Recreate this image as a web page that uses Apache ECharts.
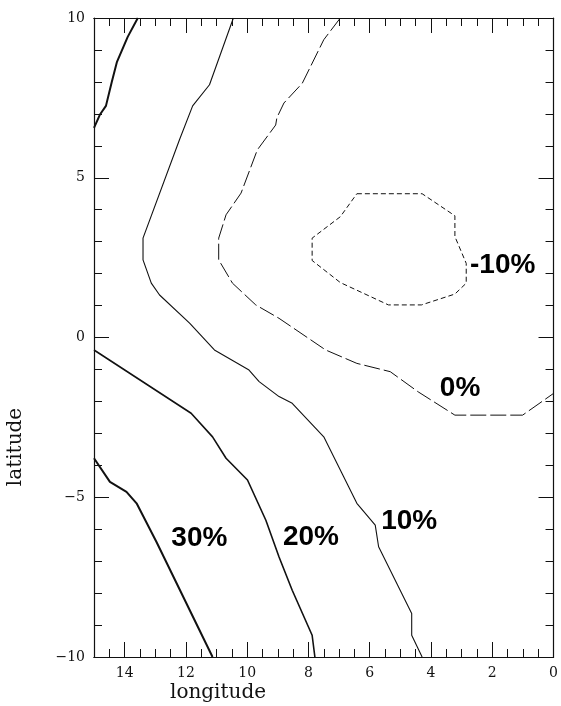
<!DOCTYPE html>
<html>
<head>
<meta charset="utf-8">
<script src="https://cdn.jsdelivr.net/npm/echarts@6/dist/echarts.min.js"></script>
<style>
html,body{margin:0;padding:0;background:#fff;}
#chart{width:561px;height:706px;}
</style>
</head>
<body>
<div id="chart"></div>
<script>
// Contour lines as [longitude, latitude] pairs
var contourTopLeft = [[13.57,10.0],[13.90,9.41],[14.25,8.63],[14.42,8.00],[14.61,7.25],[14.81,6.97],[15.0,6.56]];
var contour10 = [[10.45,10.0],[11.23,7.91],[11.78,7.25],[12.21,6.19],[13.40,3.11],[13.40,2.43],[13.13,1.70],[12.86,1.33],[11.88,0.45],[11.07,-0.39],[9.94,-1.02],[9.61,-1.38],[8.96,-1.85],[8.53,-2.06],[7.50,-3.11],[6.42,-5.19],[5.82,-5.87],[5.71,-6.55],[4.63,-8.64],[4.63,-9.32],[4.29,-10.0]];
var contour20 = [[15.0,-0.39],[11.83,-2.37],[11.13,-3.11],[10.69,-3.78],[9.99,-4.46],[9.39,-5.72],[8.96,-6.87],[8.53,-7.91],[7.88,-9.32],[7.79,-10.0]];
var contour30 = [[15.0,-3.78],[14.48,-4.52],[13.94,-4.83],[13.61,-5.19],[12.96,-6.40],[11.13,-10.0]];
var contour0 = [[6.96,10.0],[7.50,9.32],[8.20,7.96],[8.80,7.34],[9.03,6.88],[9.07,6.65],[9.67,5.87],[10.20,4.52],[10.69,3.84],[10.93,3.11],[10.93,2.43],[10.48,1.70],[9.72,1.02],[8.96,0.60],[7.44,-0.39],[6.42,-0.81],[5.33,-1.07],[4.42,-1.70],[3.22,-2.43],[1.01,-2.43],[0.0,-1.75]];
var contourMinus10 = [[6.42,4.50],[4.29,4.50],[3.22,3.81],[3.22,3.16],[2.85,2.32],[2.85,1.70],[3.22,1.36],[4.31,1.02],[5.39,1.02],[6.96,1.72],[7.88,2.41],[7.88,3.11],[6.96,3.78],[6.42,4.50]];
// Contour level labels [longitude, latitude, text]
var levelLabels = [[11.56,-6.28,'30%'],[7.92,-6.25,'20%'],[4.71,-5.75,'10%'],[3.05,-1.58,'0%'],[1.66,2.27,'-10%']];
var xTitle = 'longitude';
var yTitle = 'latitude';

var chart = echarts.init(document.getElementById('chart'), null, {renderer:'canvas'});
var ink = '#111';
var tickFont = {fontFamily:'DejaVu Serif', fontSize:14, color:ink};

function xAx(pos, interval, len, labels){
  return {type:'value', position:pos, min:0, max:15, interval:interval, inverse:true,
    axisLine:{show:true, onZero:false, lineStyle:{color:ink, width:1.2}},
    axisTick:{show:true, inside:true, length:len, lineStyle:{color:ink, width:1}},
    axisLabel:Object.assign({show:labels, margin:9, formatter:function(v){return v===15?'':String(v);}}, tickFont),
    splitLine:{show:false}};
}
function yAx(pos, labels){
  return {type:'value', position:pos, min:-10, max:10, interval:5,
    axisLine:{show:true, onZero:false, lineStyle:{color:ink, width:1.2}},
    axisTick:{show:true, inside:true, length:15, lineStyle:{color:ink, width:1}},
    minorTick:{show:true, splitNumber:5, length:8, lineStyle:{color:ink, width:1}},
    axisLabel:Object.assign({show:labels, margin:9, formatter:function(v){return v<0?'\u2212'+Math.abs(v):String(v);}}, tickFont),
    splitLine:{show:false}, minorSplitLine:{show:false}};
}
function line(data, width, type){
  return {type:'line', data:data, xAxisIndex:0, yAxisIndex:0, showSymbol:false, symbol:'none', smooth:false,
    lineStyle:{color:ink, width:width, type:type}};
}

var labelSeries = line(contour10, 1.1, 'solid');
labelSeries.markPoint = {
  symbol:'circle', symbolSize:0, animation:false,
  data: levelLabels.map(function(d){ return {name:d[2], coord:[d[0], d[1]]}; }),
  label:{show:true, position:'inside', formatter:'{b}', fontFamily:'Liberation Sans', fontWeight:'bold', fontSize:28, color:'#000'}
};

chart.setOption({
  animation:false,
  grid:{left:94, right:5, top:18, bottom:49},
  xAxis:[xAx('bottom',2,15,true), xAx('bottom',0.5,8,false), xAx('top',2,15,false), xAx('top',0.5,8,false)],
  yAxis:[yAx('left',true), yAx('right',false)],
  series:[
    line(contourTopLeft, 2, 'solid'),
    line(contour30, 2, 'solid'),
    line(contour20, 1.6, 'solid'),
    labelSeries,
    line(contour0, 1, [16,4]),
    line(contourMinus10, 1, [5,3])
  ],
  graphic:[
    {type:'text', left:170, top:683, style:{text:xTitle, font:'20px "DejaVu Serif"', fill:ink}},
    {type:'text', x:6, y:447, rotation:Math.PI/2, style:{text:yTitle, font:'20px "DejaVu Serif"', fill:ink, align:'center', verticalAlign:'top'}}
  ]
});
</script>
</body>
</html>
